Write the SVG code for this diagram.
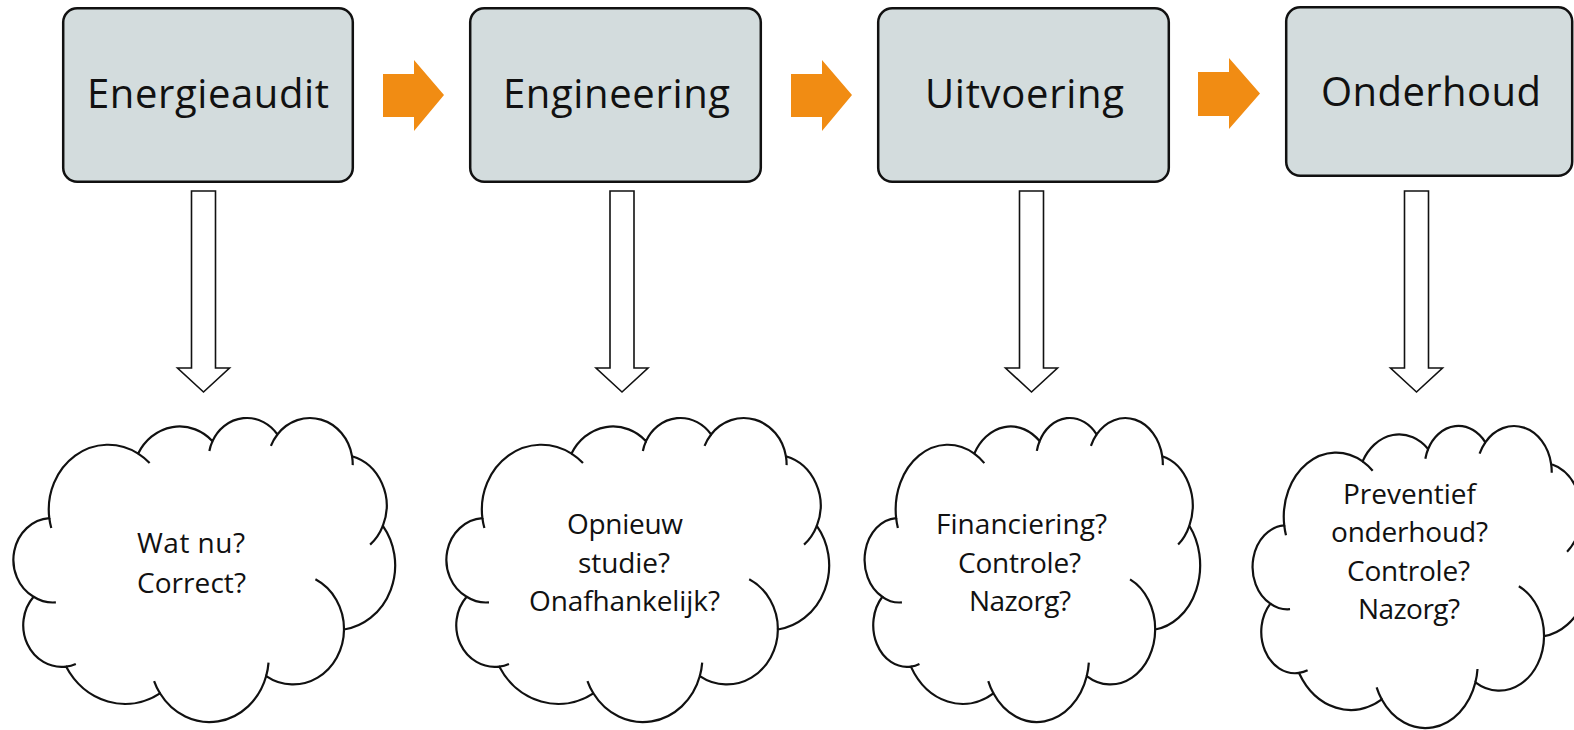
<svg xmlns="http://www.w3.org/2000/svg" xmlns:xlink="http://www.w3.org/1999/xlink" width="1574" height="730" viewBox="0 0 1574 730">
  <style>
    .box { fill: #d3dcdd; stroke: #111; stroke-width: 2.5; }
    .flow { fill: #f18c13; }
    .down { fill: #fff; stroke: #111; stroke-width: 1.6; stroke-linejoin: miter; }
    .cloud-body { fill: #fff; stroke: #111; stroke-width: 2.2; vector-effect: non-scaling-stroke; }
    .cloud-tick { fill: none; stroke: #111; stroke-width: 2.2; vector-effect: non-scaling-stroke; }
    .lbl { font-family: "Open Sans", Lato, "Liberation Sans", sans-serif; font-size: 40px; fill: #111; text-anchor: middle; }
    .ctxt { font-family: "Open Sans", Lato, "Liberation Sans", sans-serif; font-size: 28px; fill: #111; text-anchor: middle; }
  </style>
  <defs>
    <g id="cloudShape">
      <path class="cloud-body" d="M 3900 14370 A 6753 9190 0 0 1 14004.6 5201.8 A 5333 7267 0 0 1 22455.4 3432 A 4365 5945 0 0 1 29832.4 2480.7 A 4857 6595 0 0 1 38317.6 5575.7 A 5333 7273 0 0 1 41817.9 15459.4 A 6775 9220 0 0 1 37403.9 30202.6 A 5785 7867 0 0 1 28555.6 36812.9 A 6752 9215 0 0 1 16480 39263.4 A 7720 10543 0 0 1 5804.4 35469.2 A 4360 5918 0 0 1 2113.2 25547.3 A 4345 5945 0 0 1 3900 14370 Z"/>
      <path class="cloud-tick" d="M 4646.4 26344.3 A 4345 5945 0 0 1 2113.2 25547.3 M 6912.9 35087.7 A 4360 5918 0 0 1 5804.4 35469.2 M 16480 39263.4 A 6752 9215 0 0 1 15812.4 37524.2 M 28822.2 34903.4 A 6752 9215 0 0 1 28555.6 36812.9 M 34152.7 23067.1 A 5785 7867 0 0 1 37403.9 30202.6 M 41817.9 15459.4 A 5333 7273 0 0 1 40372 18133 M 38317.6 5575.7 A 4857 6595 0 0 1 38394.1 6839.5 M 29090.8 4092.1 A 4857 6595 0 0 1 29832.4 2480.7 M 22096.2 4821.5 A 4365 5945 0 0 1 22455.4 3432 M 14004.6 5201.8 A 6753 9190 0 0 1 15305.1 6550.7 M 4125 15780 A 6753 9190 0 0 1 3900 14370"/>
    </g>
  </defs>

  <g id="connectors">
    <polygon class="flow" points="383,74 414,74 414,60 444,95 414,131 414,117 383,117"/>
    <polygon class="flow" points="791,74 822,74 822,60 852,95 822,131 822,117 791,117"/>
    <polygon class="flow" points="1198,72 1229,72 1229,58 1260,93.5 1229,129 1229,116 1198,116"/>
    <polygon class="down" points="191.5,191 215.5,191 215.5,368 229.5,368 203.5,392 177.5,368 191.5,368"/>
    <polygon class="down" points="610,191 634,191 634,368 648,368 622,392 596,368 610,368"/>
    <polygon class="down" points="1019.5,191 1043.5,191 1043.5,368 1057.5,368 1031.5,392 1005.5,368 1019.5,368"/>
    <polygon class="down" points="1404.5,191 1428.5,191 1428.5,368 1442.5,368 1416.5,392 1390.5,368 1404.5,368"/>
  </g>

  <g id="node-energieaudit">
    <rect class="box" x="63.2" y="8.2" width="289.6" height="173.6" rx="14" ry="14"/>
    <text class="lbl" x="208" y="108" textLength="242">Energieaudit</text>
  </g>
  <g id="node-engineering">
    <rect class="box" x="470.2" y="8.2" width="290.6" height="173.6" rx="14" ry="14"/>
    <text class="lbl" x="616.5" y="108" textLength="227">Engineering</text>
  </g>
  <g id="node-uitvoering">
    <rect class="box" x="878.2" y="8.2" width="290.6" height="173.6" rx="14" ry="14"/>
    <text class="lbl" x="1024.5" y="108" textLength="199">Uitvoering</text>
  </g>
  <g id="node-onderhoud">
    <rect class="box" x="1286.2" y="7.2" width="286" height="168.6" rx="14" ry="14"/>
    <text class="lbl" x="1431" y="106" textLength="220">Onderhoud</text>
  </g>

  <g id="cloud-1">
    <use xlink:href="#cloudShape" href="#cloudShape" transform="translate(15,417) scale(0.0087963,0.0070370)"/>
    <text class="ctxt" x="191" y="553" textLength="108">Wat nu?</text>
    <text class="ctxt" x="191.5" y="593" textLength="109">Correct?</text>
  </g>
  <g id="cloud-2">
    <use xlink:href="#cloudShape" href="#cloudShape" transform="translate(448,417) scale(0.0088194,0.0070370)"/>
    <text class="ctxt" x="625" y="534" textLength="116">Opnieuw</text>
    <text class="ctxt" x="624" y="573" textLength="92">studie?</text>
    <text class="ctxt" x="624.5" y="611" textLength="191">Onafhankelijk?</text>
  </g>
  <g id="cloud-3">
    <use xlink:href="#cloudShape" href="#cloudShape" transform="translate(866,417) scale(0.0077315,0.0070370)"/>
    <text class="ctxt" x="1021.5" y="534" textLength="171">Financiering?</text>
    <text class="ctxt" x="1019.5" y="573" textLength="123">Controle?</text>
    <text class="ctxt" x="1020" y="611" textLength="102">Nazorg?</text>
  </g>
  <g id="cloud-4">
    <use xlink:href="#cloudShape" href="#cloudShape" transform="translate(1254,425) scale(0.0077546,0.0069907)"/>
    <text class="ctxt" x="1409.5" y="504" textLength="133">Preventief</text>
    <text class="ctxt" x="1409.5" y="542" textLength="157">onderhoud?</text>
    <text class="ctxt" x="1408.5" y="581" textLength="123">Controle?</text>
    <text class="ctxt" x="1409" y="619" textLength="102">Nazorg?</text>
  </g>
</svg>
